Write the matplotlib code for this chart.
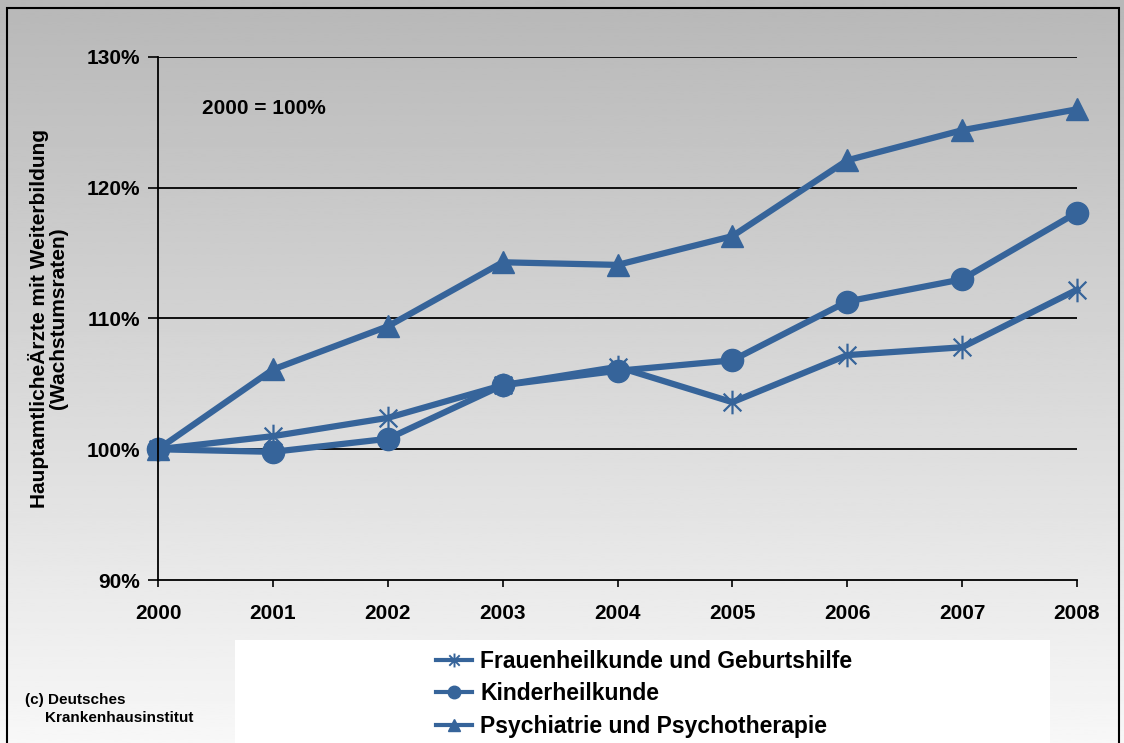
import numpy as np
import matplotlib
matplotlib.use("Agg")
import matplotlib.pyplot as plt
from matplotlib.path import Path
from matplotlib.lines import Line2D
from matplotlib.patches import Rectangle

years = [2000, 2001, 2002, 2003, 2004, 2005, 2006, 2007, 2008]
frauen = [100.0, 101.0, 102.4, 104.9, 106.3, 103.6, 107.2, 107.8, 112.2]
kinder = [100.0, 99.8, 100.8, 104.9, 106.0, 106.8, 111.3, 113.0, 118.1]
psych = [100.0, 106.1, 109.4, 114.3, 114.1, 116.3, 122.1, 124.4, 126.0]
labels = ["Frauenheilkunde und Geburtshilfe", "Kinderheilkunde",
          "Psychiatrie und Psychotherapie"]
yticks = [90, 100, 110, 120, 130]

blue = "#36649A"
plt.rcParams['font.family'] = ['Liberation Sans', 'DejaVu Sans']

# asterisk marker: vertical bar plus an x
star = Path([(0, -1), (0, 1), (-0.75, -0.75), (0.75, 0.75), (-0.75, 0.75), (0.75, -0.75)],
            [Path.MOVETO, Path.LINETO, Path.MOVETO, Path.LINETO, Path.MOVETO, Path.LINETO])

fig = plt.figure(figsize=(11.24, 7.43), dpi=100)

# gradient background
bg = fig.add_axes([0, 0, 1, 1], zorder=-5)
grad = np.linspace(0.72, 0.97, 256).reshape(-1, 1)
bg.imshow(grad, aspect="auto", cmap="gray", vmin=0, vmax=1, extent=[0, 1, 0, 1], origin="upper")
bg.set_xlim(0, 1)
bg.set_ylim(0, 1)
bg.axis("off")
bg.add_patch(Rectangle((235 / 1124, 0), (1050 - 235) / 1124, 103 / 743,
                       facecolor="white", edgecolor="none"))
bg.add_patch(Rectangle((7 / 1124, -0.01), (1119 - 7) / 1124, 1 - 8 / 743 + 0.01,
                       facecolor="none", edgecolor="black", lw=1.5))

ax = fig.add_axes([158 / 1124, 1 - 580 / 743, (1077 - 158) / 1124, (580 - 57) / 743])
ax.patch.set_alpha(0)
ax.plot(years, frauen, color=blue, lw=4.5, marker=star, ms=17, mew=1.6, mec=blue, clip_on=False)
ax.plot(years, kinder, color=blue, lw=4.5, marker="o", ms=16, mec=blue, mfc=blue, clip_on=False)
ax.plot(years, psych, color=blue, lw=4.5, marker="^", ms=16, mec=blue, mfc=blue, clip_on=False)

ax.set_xlim(2000, 2008)
ax.set_ylim(90, 130)
ax.set_yticks(yticks)
ax.set_yticklabels([f"{v}%" for v in yticks], fontsize=15, fontweight="bold")
ax.set_xticks(years)
ax.set_xticklabels([str(y) for y in years], fontsize=15, fontweight="bold")
ax.tick_params(axis="y", length=7, width=1.2, pad=6)
ax.tick_params(axis="x", length=5, width=1.2, pad=12)
for v in yticks[1:]:
    ax.axhline(v, color="black", lw=1.3, zorder=0)
for s in ["top", "right"]:
    ax.spines[s].set_visible(False)
ax.spines["left"].set_linewidth(1.3)
ax.spines["bottom"].set_linewidth(1.3)
ax.set_ylabel("HauptamtlicheÄrzte mit Weiterbildung\n(Wachstumsraten)",
              fontsize=15, fontweight="bold", labelpad=13, linespacing=1.0)

fig.text(202 / 1124, 1 - 108 / 743, "2000 = 100%", fontsize=15, fontweight="bold",
         va="center", ha="left")

handles = [
    Line2D([], [], color=blue, lw=3, marker=star, ms=10, mew=1.4, mec=blue),
    Line2D([], [], color=blue, lw=3, marker="o", ms=9, mec=blue, mfc=blue),
    Line2D([], [], color=blue, lw=3, marker="^", ms=9, mec=blue, mfc=blue),
]
leg = fig.legend(handles, labels, loc="upper left", bbox_to_anchor=(415 / 1124, 1 - 629 / 743),
                 frameon=False, handlelength=1.6, handletextpad=0.35, labelspacing=0.42,
                 prop={"weight": "bold", "size": 16.5})

fig.text(25 / 1124, 1 - 700 / 743, "(c) Deutsches", fontsize=11, fontweight="bold", va="center")
fig.text(45 / 1124, 1 - 718 / 743, "Krankenhausinstitut", fontsize=11, fontweight="bold", va="center")

fig.savefig("out.png", dpi=100)
